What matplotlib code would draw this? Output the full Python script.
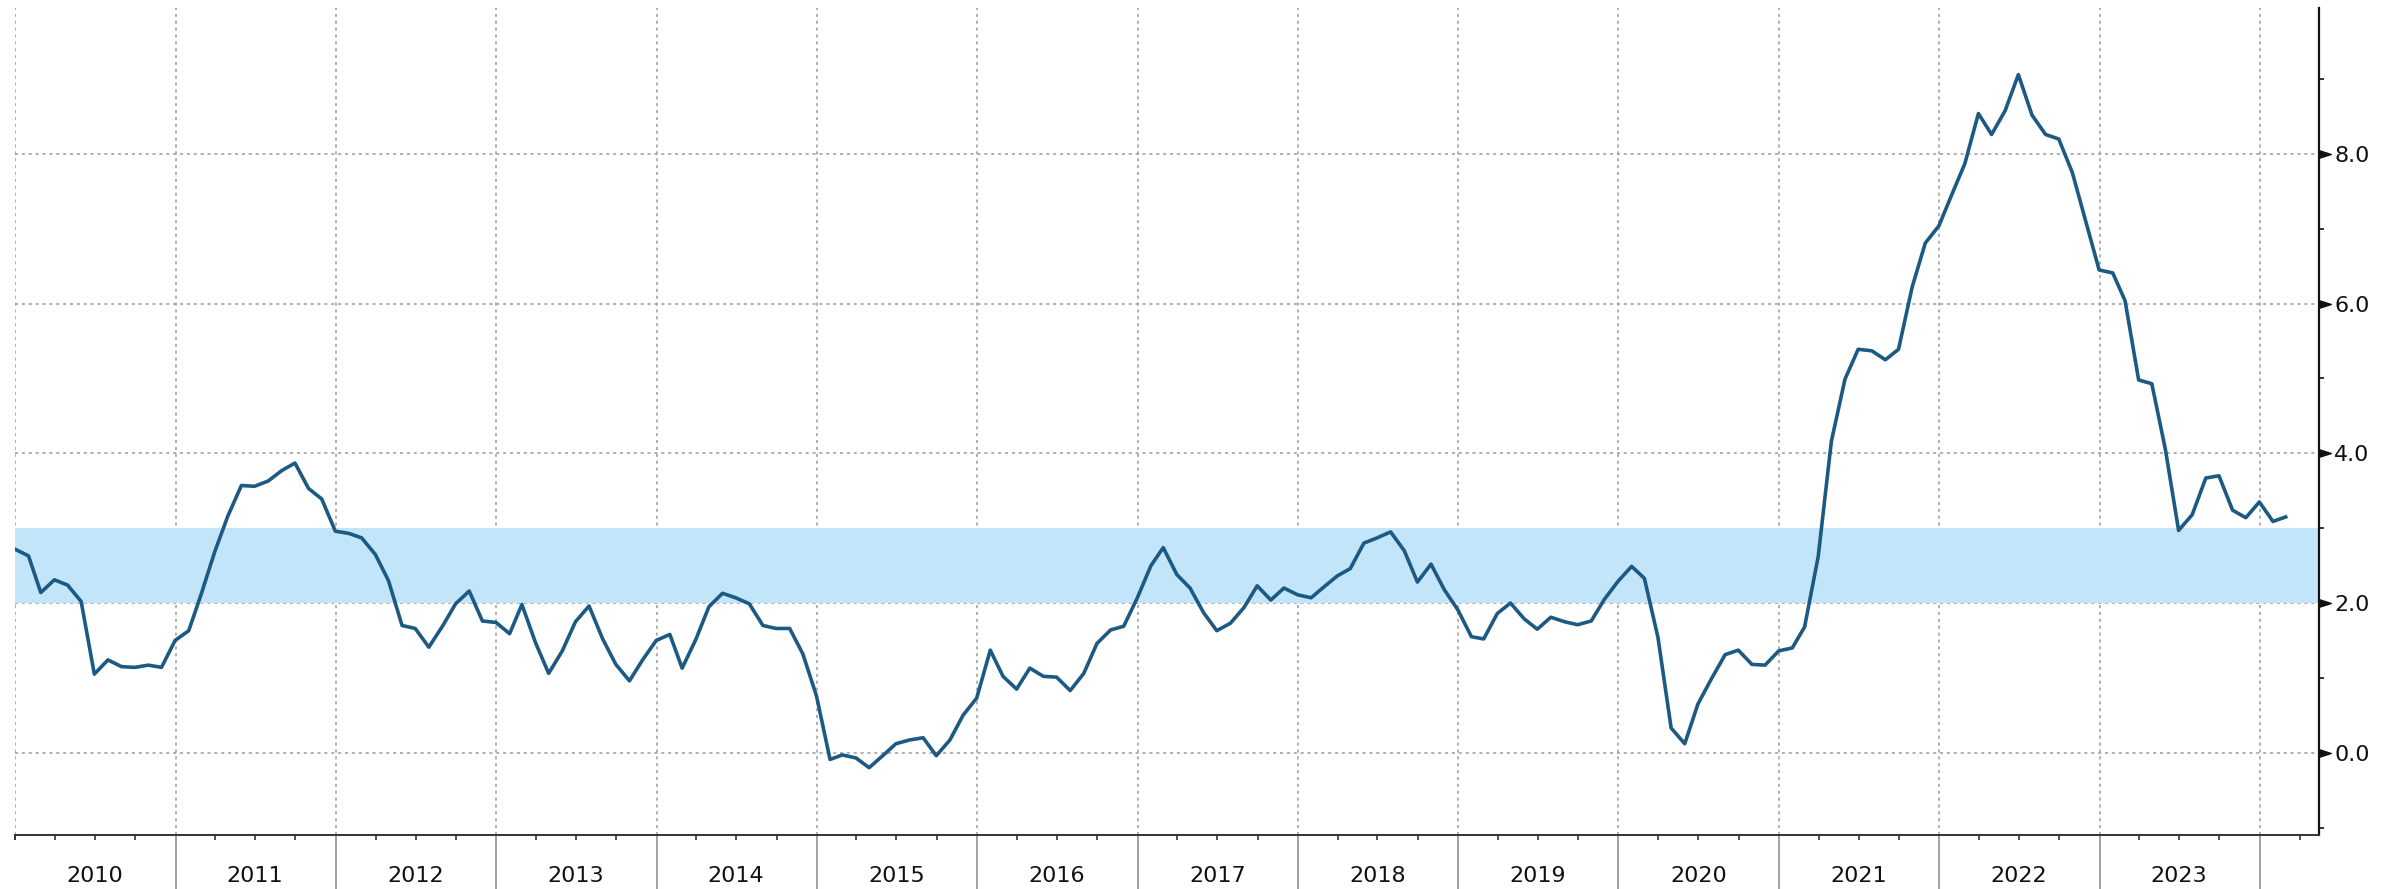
import matplotlib
matplotlib.use("Agg")
import matplotlib.pyplot as plt
import matplotlib.dates as mdates
from matplotlib.path import Path
from matplotlib.transforms import blended_transform_factory
import numpy as np
import pandas as pd

# US CPI, % y/y, monthly from Dec 2009 to Feb 2024
start_month = "2009-12"
cpi_yoy = [
    2.72,
    2.63, 2.14, 2.31, 2.24, 2.02, 1.05, 1.24, 1.15, 1.14, 1.17, 1.14, 1.50,  # 2010
    1.63, 2.11, 2.68, 3.16, 3.57, 3.56, 3.63, 3.77, 3.87, 3.53, 3.39, 2.96,  # 2011
    2.93, 2.87, 2.65, 2.30, 1.70, 1.66, 1.41, 1.69, 1.99, 2.16, 1.76, 1.74,  # 2012
    1.59, 1.98, 1.47, 1.06, 1.36, 1.75, 1.96, 1.52, 1.18, 0.96, 1.24, 1.50,  # 2013
    1.58, 1.13, 1.51, 1.95, 2.13, 2.07, 1.99, 1.70, 1.66, 1.66, 1.32, 0.76,  # 2014
    -0.09, -0.03, -0.07, -0.20, -0.04, 0.12, 0.17, 0.20, -0.04, 0.17, 0.50, 0.73,  # 2015
    1.37, 1.02, 0.85, 1.13, 1.02, 1.01, 0.83, 1.06, 1.46, 1.64, 1.69, 2.07,  # 2016
    2.50, 2.74, 2.38, 2.20, 1.87, 1.63, 1.73, 1.94, 2.23, 2.04, 2.20, 2.11,  # 2017
    2.07, 2.21, 2.36, 2.46, 2.80, 2.87, 2.95, 2.70, 2.28, 2.52, 2.18, 1.91,  # 2018
    1.55, 1.52, 1.86, 2.00, 1.79, 1.65, 1.81, 1.75, 1.71, 1.76, 2.05, 2.29,  # 2019
    2.49, 2.33, 1.54, 0.33, 0.12, 0.65, 0.99, 1.31, 1.37, 1.18, 1.17, 1.36,  # 2020
    1.40, 1.68, 2.62, 4.16, 4.99, 5.39, 5.37, 5.25, 5.39, 6.22, 6.81, 7.04,  # 2021
    7.48, 7.87, 8.54, 8.26, 8.58, 9.06, 8.52, 8.26, 8.20, 7.75, 7.11, 6.45,  # 2022
    6.41, 6.04, 4.98, 4.93, 4.05, 2.97, 3.18, 3.67, 3.70, 3.24, 3.14, 3.35,  # 2023
    3.09, 3.15,  # 2024
]
target_band = [2.0, 3.0]
y_ticks = [0, 2, 4, 6, 8]

dates = pd.date_range(start_month, periods=len(cpi_yoy), freq="MS") + pd.offsets.MonthEnd(0)

line_color = "#1d5a83"
band_color = "#c3e5fa"
grid_color = "#9a9a9a"

fig = plt.figure(figsize=(23.94, 8.89), dpi=100)
ax = fig.add_axes([0.0064, 0.0607, 0.9623, 0.9303])

ax.axhspan(target_band[0], target_band[1], color=band_color, lw=0, zorder=1)
ax.plot(dates, cpi_yoy, color=line_color, lw=2.6, zorder=3)

ax.set_xlim(pd.Timestamp("2010-01-01"), pd.Timestamp("2024-05-15"))
ax.set_ylim(-1.1, 9.95)

# spines
for s in ["left", "top"]:
    ax.spines[s].set_visible(False)
ax.spines["right"].set_linewidth(1.6)
ax.spines["right"].set_color("#111111")
ax.spines["bottom"].set_linewidth(1.4)
ax.spines["bottom"].set_color("#333333")

# y axis on the right
ax.yaxis.tick_right()
ax.set_yticks(y_ticks)
ax.set_yticks(np.arange(-1, 10, 2), minor=True)
ax.yaxis.set_major_formatter(matplotlib.ticker.FormatStrFormatter("%.1f"))
ax.tick_params(axis="y", which="major", length=0, pad=11, labelsize=16, labelcolor="#111111")
ax.tick_params(axis="y", which="minor", length=3.5, width=1.2, color="#111111")

# triangle markers on major y ticks
tri = Path([(0, -0.32), (0, 0.32), (1, 0), (0, -0.32)], [1, 2, 2, 79])
trans = blended_transform_factory(ax.transAxes, ax.transData)
ax.plot([1.0] * len(y_ticks), y_ticks, ls="none", marker=tri, markersize=17,
        color="#111111", transform=trans, clip_on=False, zorder=5)

# x axis: year separators, quarterly ticks, labels at mid-year
ax.xaxis.set_major_locator(mdates.YearLocator())
ax.xaxis.set_major_formatter(matplotlib.ticker.NullFormatter())
ax.xaxis.set_minor_locator(mdates.MonthLocator(bymonth=[4, 7, 10]))


def year_label(x, pos):
    d = mdates.num2date(x)
    return str(d.year) if d.month == 7 else ""


ax.xaxis.set_minor_formatter(matplotlib.ticker.FuncFormatter(year_label))
ax.tick_params(axis="x", which="major", length=40, width=1.3, color="#9a9a9a", direction="out")
ax.tick_params(axis="x", which="minor", length=3.5, width=1.2, color="#333333",
               pad=19, labelsize=16, labelcolor="#111111")

ax.grid(True, which="major", color=grid_color, ls=(0, (2, 2.5)), lw=1.1, zorder=0)
ax.set_axisbelow(True)

# the left edge has only a short black tick, not a separator
first = ax.xaxis.get_major_ticks()[0]
first.tick1line.set_visible(False)
ax.plot([0], [0], ls="none", marker=[(0, 0), (0, -1)], markersize=7, mew=1.4,
        color="#333333", transform=ax.transAxes, clip_on=False)

fig.savefig("out.png", dpi=100)
